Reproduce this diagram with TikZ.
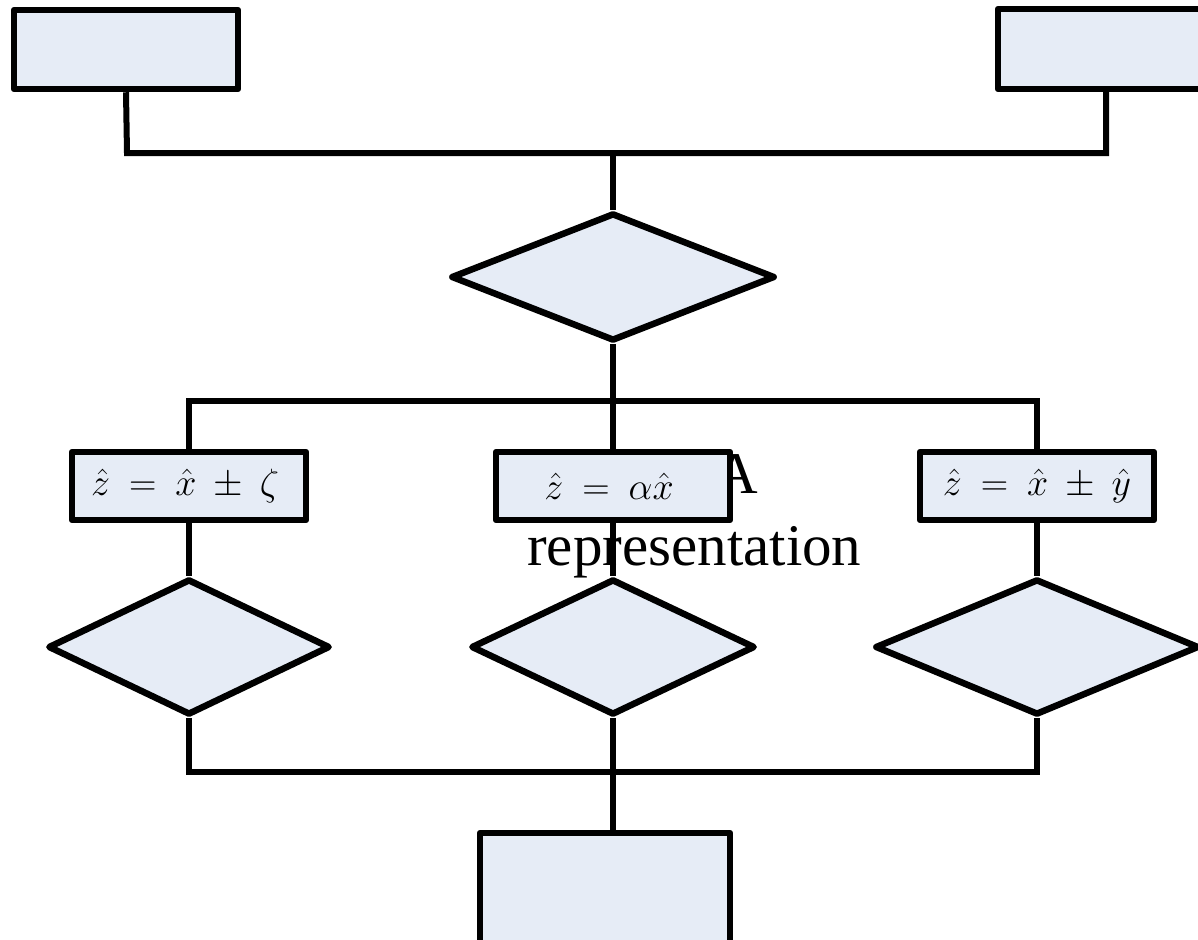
\documentclass[tikz,border=0pt]{standalone}
\usepackage{fix-cm}
\usepackage{fontspec}
\setmainfont{Liberation Serif}
\usetikzlibrary{shapes.geometric}
\definecolor{boxfill}{RGB}{230,236,246}
\pgfdeclarelayer{txt}
\pgfdeclarelayer{lines}
\pgfsetlayers{txt,lines,main}
\begin{document}
\begin{tikzpicture}[x=1pt,y=-1pt,
  line width=6.5pt, line join=round,
  box/.style={draw=black, fill=boxfill, rectangle, inner sep=0pt, font=\fontsize{38}{46}\selectfont},
  dia/.style={draw=black, fill=boxfill, diamond, inner sep=0pt, aspect=2},
  conn/.style={draw=black, line width=6pt}
]
\useasboundingbox (0,0) rectangle (1198,939);

% shapes
\node[box, minimum width=224pt, minimum height=79pt] (tl) at (126,49.5) {};
\node[box, minimum width=222pt, minimum height=80pt] (tr) at (1109,49) {};
\node[dia, minimum width=324pt, minimum height=128pt] (d0) at (613,277) {};
\node[box, minimum width=234pt, minimum height=68pt] (b1) at (189,486) {$\hat{z}\:=\:\hat{x}\:\pm\:\zeta$\hspace*{8pt}};
\node[box, minimum width=234pt, minimum height=68pt] (b2) at (613,486) {$\hat{z}\:=\:\alpha\hat{x}$\hspace*{8pt}};
\node[box, minimum width=234pt, minimum height=68pt] (b3) at (1037,486) {$\hat{z}\:=\:\hat{x}\:\pm\:\hat{y}$};
\node[dia, minimum width=282pt, minimum height=136pt] (d1) at (189,647) {};
\node[dia, minimum width=284pt, minimum height=136pt] (d2) at (613,647) {};
\node[dia, minimum width=324pt, minimum height=136pt] (d3) at (1037,647) {};
\node[box, minimum width=250pt, minimum height=127pt] (bb) at (605,896.5) {};

% text under everything
\begin{pgfonlayer}{txt}
\node[font=\fontsize{59}{72}\selectfont, align=left, anchor=base west, inner sep=0pt] (lbl) at (527,565) {\hspace*{188pt}A\\representation};
\end{pgfonlayer}

\coordinate (j1) at (127,153);
\coordinate (j2) at (1106,153);
\coordinate (j3) at (613,153);
\coordinate (h1) at (613,401);
\coordinate (h2) at (613,772);

\begin{pgfonlayer}{lines}
\draw[conn] (tl.south) -- (j1) -- (j2) -- (tr.south -| j2);
\draw[conn] (j3) -- (d0.north);
\draw[conn] (d0.south) -- (d2.north);
\draw[conn] (b1.north) -- (b1.north |- h1) -- (b3.north |- h1) -- (b3.north);
\draw[conn] (b1.south) -- (d1.north);
\draw[conn] (b3.south) -- (d3.north);
\draw[conn] (d1.south) -- (d1.south |- h2) -- (d3.south |- h2) -- (d3.south);
\draw[conn] (d2.south) -- (bb.north -| d2.south);
\end{pgfonlayer}
\end{tikzpicture}
\end{document}
